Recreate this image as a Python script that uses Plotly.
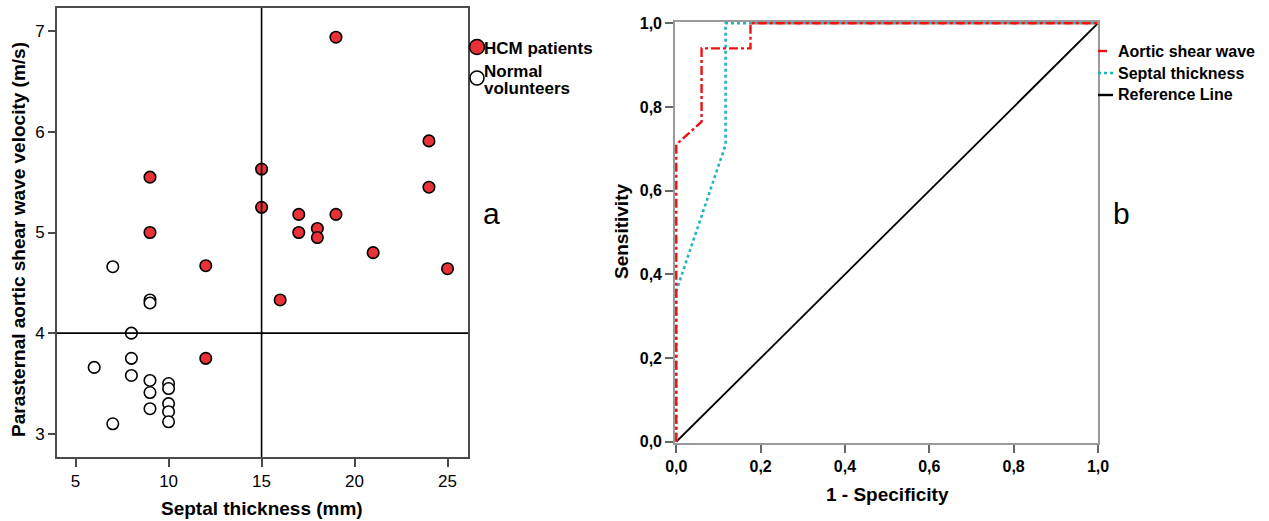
import plotly.graph_objects as go

W, H = 1269, 521

# ---------------- data ----------------
hcm_thickness = [9, 9, 12, 12, 15, 15, 16, 17, 17, 18, 18, 19, 19, 21, 24, 24, 25]
hcm_velocity = [5.55, 5.00, 4.67, 3.75, 5.63, 5.25, 4.33, 5.18, 5.00, 5.04, 4.95, 6.94, 5.18, 4.80, 5.91, 5.45, 4.64]

normal_thickness = [6, 7, 7, 8, 8, 8, 9, 9, 9, 9, 9, 10, 10, 10, 10, 10]
normal_velocity = [3.66, 4.66, 3.10, 4.00, 3.75, 3.58, 4.33, 4.30, 3.53, 3.41, 3.25, 3.50, 3.45, 3.30, 3.22, 3.12]

cutoff_thickness = 15
cutoff_velocity = 4

aortic_fpr = [0, 0, 0.06, 0.06, 0.176, 0.176, 1.0]
aortic_tpr = [0, 0.71, 0.765, 0.94, 0.94, 1.0, 1.0]
septal_fpr = [0, 0, 0.117, 0.117, 1.0]
septal_tpr = [0, 0.36, 0.71, 1.0, 1.0]
ref_fpr = [0, 1]
ref_tpr = [0, 1]

left_xticks = [5, 10, 15, 20, 25]
left_yticks = [3, 4, 5, 6, 7]
roc_ticks = [0, 0.2, 0.4, 0.6, 0.8, 1.0]
roc_ticktext = ["0,0", "0,2", "0,4", "0,6", "0,8", "1,0"]

RED_PT = "#EA3138"
RED_LN = "#F01010"
CYAN = "#20B4BE"
FONT = "Liberation Sans, Arial, sans-serif"

def px(x):
    return x / W

def py(y):
    return 1 - y / H

fig = go.Figure()

# ---------------- left scatter ----------------
fig.add_trace(go.Scatter(
    x=hcm_thickness, y=hcm_velocity, mode="markers", name="HCM patients",
    marker=dict(size=11.5, color=RED_PT, line=dict(color="black", width=1.6)),
    xaxis="x", yaxis="y", showlegend=False))
fig.add_trace(go.Scatter(
    x=normal_thickness, y=normal_velocity, mode="markers", name="Normal volunteers",
    marker=dict(size=11.5, color="white", line=dict(color="black", width=1.6)),
    xaxis="x", yaxis="y", showlegend=False))

# ---------------- right ROC ----------------
fig.add_trace(go.Scatter(
    x=ref_fpr, y=ref_tpr, mode="lines", name="Reference Line",
    line=dict(color="black", width=1.8), xaxis="x2", yaxis="y2", showlegend=False))
fig.add_trace(go.Scatter(
    x=septal_fpr, y=septal_tpr, mode="lines", name="Septal thickness",
    line=dict(color=CYAN, width=2.6, dash="dot"), xaxis="x2", yaxis="y2", showlegend=False))
fig.add_trace(go.Scatter(
    x=aortic_fpr, y=aortic_tpr, mode="lines", name="Aortic shear wave",
    line=dict(color=RED_LN, width=2.4, dash="dashdot"), xaxis="x2", yaxis="y2", showlegend=False))

shapes = [
    dict(type="line", xref="x", yref="paper", x0=cutoff_thickness, x1=cutoff_thickness,
         y0=py(457), y1=py(8), line=dict(color="black", width=1.6), layer="above"),
    dict(type="line", xref="paper", yref="y", x0=px(57), x1=px(468),
         y0=cutoff_velocity, y1=cutoff_velocity, line=dict(color="black", width=1.6), layer="above"),
]

# legend (left)
def circle(cx, cy, r, fill):
    return dict(type="circle", xref="paper", yref="paper",
                x0=px(cx - r), x1=px(cx + r), y0=py(cy + r), y1=py(cy - r),
                fillcolor=fill, line=dict(color="black", width=1.6))

shapes.append(circle(477, 47, 7.5, RED_PT))
shapes.append(circle(477, 78, 7.0, "white"))

# legend (right)
leg_items = [(51, RED_LN, "dash"), (73, CYAN, "dot"), (95, "black", "solid")]
for yy, col, dsh in leg_items:
    shapes.append(dict(type="line", xref="paper", yref="paper", x0=px(1098), x1=px(1113),
                       y0=py(yy), y1=py(yy), line=dict(color=col, width=2.4, dash=dsh)))

LEG = dict(size=17, family=FONT, color="black")
annotations = [
    dict(text="<b>HCM patients</b>", x=px(482), y=py(48), xref="paper", yref="paper",
         xanchor="left", yanchor="middle", showarrow=False, font=LEG),
    dict(text="<b>Normal</b>", x=px(482), y=py(71), xref="paper", yref="paper",
         xanchor="left", yanchor="middle", showarrow=False, font=LEG),
    dict(text="<b>volunteers</b>", x=px(482), y=py(89), xref="paper", yref="paper",
         xanchor="left", yanchor="middle", showarrow=False, font=LEG),
    dict(text="<b>Aortic shear wave</b>", x=px(1116), y=py(51), xref="paper", yref="paper",
         xanchor="left", yanchor="middle", showarrow=False, font=dict(size=16, family=FONT, color="black")),
    dict(text="<b>Septal thickness</b>", x=px(1116), y=py(73), xref="paper", yref="paper",
         xanchor="left", yanchor="middle", showarrow=False, font=dict(size=16, family=FONT, color="black")),
    dict(text="<b>Reference Line</b>", x=px(1116), y=py(95), xref="paper", yref="paper",
         xanchor="left", yanchor="middle", showarrow=False, font=dict(size=16, family=FONT, color="black")),
    dict(text="a", x=px(491), y=py(213), xref="paper", yref="paper",
         xanchor="center", yanchor="middle", showarrow=False, font=dict(size=30, family=FONT, color="black")),
    dict(text="b", x=px(1121), y=py(213), xref="paper", yref="paper",
         xanchor="center", yanchor="middle", showarrow=False, font=dict(size=30, family=FONT, color="black")),
    # axis titles
    dict(text="<b>Septal thickness (mm)</b>", x=px(262), y=py(508), xref="paper", yref="paper",
         xanchor="center", yanchor="middle", showarrow=False, font=dict(size=19, family=FONT, color="black")),
    dict(text="<b>Parasternal aortic shear wave velocity (m/s)</b>", x=px(18), y=py(240), xref="paper", yref="paper",
         xanchor="center", yanchor="middle", textangle=-90, showarrow=False,
         font=dict(size=19, family=FONT, color="black")),
    dict(text="<b>1 - Specificity</b>", x=px(887), y=py(494), xref="paper", yref="paper",
         xanchor="center", yanchor="middle", showarrow=False, font=dict(size=19, family=FONT, color="black")),
    dict(text="<b>Sensitivity</b>", x=px(622), y=py(232), xref="paper", yref="paper",
         xanchor="center", yanchor="middle", textangle=-90, showarrow=False,
         font=dict(size=19, family=FONT, color="black")),
]

LEFT_LINE = "#4a4a4a"
RIGHT_LINE = "#9a9a9a"

common = dict(showgrid=False, zeroline=False, automargin=False)

fig.update_layout(
    template="none",
    width=W, height=H,
    margin=dict(l=0, r=0, t=0, b=0, pad=0, autoexpand=False),
    paper_bgcolor="white", plot_bgcolor="white",
    showlegend=False,
    font=dict(family=FONT, color="black"),
    shapes=shapes,
    annotations=annotations,
    xaxis=dict(domain=[px(57), px(468)], range=[4.0, 26.1], tickvals=left_xticks,
               ticks="outside", ticklen=8, tickwidth=1.5, tickcolor=LEFT_LINE,
               showline=True, linecolor=LEFT_LINE, linewidth=1.6, mirror=True,
               tickfont=dict(size=17, family=FONT, color="black"),
               anchor="y", **common),
    yaxis=dict(domain=[py(457), py(8)], range=[2.77, 7.23], tickvals=left_yticks,
               ticks="outside", ticklen=7, tickwidth=1.5, tickcolor=LEFT_LINE,
               showline=True, linecolor=LEFT_LINE, linewidth=1.6, mirror=True,
               tickfont=dict(size=17, family=FONT, color="black"),
               anchor="x", **common),
    xaxis2=dict(domain=[px(675), px(1098)], range=[-0.003, 1.0], tickvals=roc_ticks, ticktext=roc_ticktext,
                ticks="outside", ticklen=8, tickwidth=1.5, tickcolor="#666",
                showline=True, linecolor=RIGHT_LINE, linewidth=1.6, mirror=True,
                tickfont=dict(size=16, family=FONT, color="black", weight="bold"),
                anchor="y2", **common),
    yaxis2=dict(domain=[py(443), py(22)], range=[-0.003, 1.003], tickvals=roc_ticks, ticktext=roc_ticktext,
                ticks="outside", ticklen=8, tickwidth=1.5, tickcolor="#666",
                showline=True, linecolor=RIGHT_LINE, linewidth=1.6, mirror=True,
                tickfont=dict(size=16, family=FONT, color="black", weight="bold"),
                anchor="x2", **common),
)

fig.write_html("out.html")
